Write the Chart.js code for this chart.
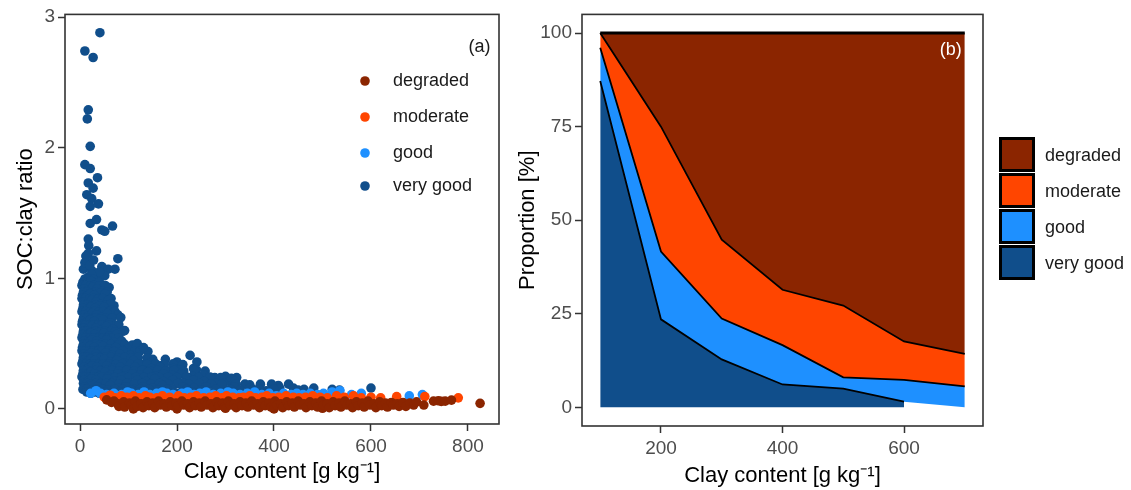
<!DOCTYPE html>
<html>
<head>
<meta charset="utf-8">
<script src="https://cdn.jsdelivr.net/npm/chart.js@4.4.1/dist/chart.umd.min.js"></script>
<style>
  html, body { margin: 0; padding: 0; background: #ffffff; }
  #wrap { position: relative; width: 1131px; height: 490px; }
  #scatterCanvas { position: absolute; left: 0; top: 0; }
  #areaCanvas { position: absolute; left: 510px; top: 0; }
</style>
</head>
<body>
<div id="wrap">
  <canvas id="scatterCanvas" width="510" height="490"></canvas>
  <canvas id="areaCanvas" width="621" height="490"></canvas>
</div>
<script>
// ---- categories and tick labels ----
const categories = ['degraded', 'moderate', 'good', 'very good'];
const scatterXTicks = [0, 200, 400, 600, 800];
const scatterYTicks = [0, 1, 2, 3];
const areaXTicks = [200, 400, 600];
const areaYTicks = [0, 25, 50, 75, 100];

// ---- panel (a): clay content [g/kg] vs SOC:clay ratio, one list per class ----
const degradedPts = [
  [55,0.07],[65,0.05],[70,0.06],[78,0.04],[80,0.02],[90,0.055],[92,0.015],[102,0.045],[106,0.03],[110,0.0],
  [114,0.06],[118,0.02],[126,0.04],[130,0.01],[138,0.055],[142,0.025],[150,0.045],[154,0.01],[162,0.06],[166,0.03],
  [174,0.04],[178,0.015],[186,0.055],[190,0.025],[198,0.045],[200,0.0],[202,0.02],[210,0.06],[214,0.03],[222,0.04],
  [226,0.01],[234,0.055],[238,0.025],[246,0.045],[250,0.015],[258,0.06],[262,0.03],[270,0.04],[274,0.01],[282,0.055],
  [286,0.025],[294,0.045],[298,0.015],[300,0.005],[306,0.06],[310,0.03],[318,0.04],[322,0.01],[330,0.055],[334,0.025],
  [342,0.045],[346,0.015],[354,0.06],[358,0.03],[366,0.04],[370,0.01],[378,0.055],[382,0.025],[390,0.045],[394,0.015],
  [400,0.0],[402,0.06],[406,0.03],[414,0.04],[418,0.01],[426,0.055],[430,0.025],[438,0.045],[442,0.015],[450,0.06],
  [454,0.03],[462,0.04],[466,0.01],[474,0.055],[478,0.025],[486,0.045],[490,0.015],[498,0.06],[500,0.005],[502,0.03],
  [510,0.04],[514,0.01],[522,0.055],[526,0.025],[534,0.045],[538,0.015],[546,0.06],[550,0.03],[558,0.04],[562,0.01],
  [570,0.055],[574,0.025],[582,0.045],[586,0.015],[594,0.06],[598,0.03],[606,0.04],[610,0.01],[618,0.055],[622,0.025],
  [630,0.045],[634,0.015],[642,0.05],[646,0.03],[654,0.04],[658,0.02],[666,0.05],[672,0.02],[680,0.045],[688,0.03],
  [694,0.055],[709,0.03],[729,0.06],[739,0.063],[745,0.058],[753,0.06],[766,0.068],[825,0.043]
];
const moderatePts = [
  [50,0.09],[62,0.105],[72,0.085],[85,0.10],[97,0.09],[110,0.10],[122,0.085],[135,0.10],[144,0.09],[158,0.085],
  [170,0.10],[185,0.09],[203,0.10],[215,0.085],[228,0.09],[240,0.10],[255,0.085],[268,0.09],[280,0.10],[292,0.085],
  [302,0.10],[315,0.09],[328,0.085],[337,0.09],[350,0.10],[362,0.085],[375,0.09],[385,0.10],[398,0.085],[410,0.09],
  [425,0.10],[440,0.09],[452,0.085],[465,0.09],[480,0.10],[495,0.09],[510,0.085],[529,0.10],[545,0.09],[564,0.10],
  [580,0.085],[600,0.09],[620,0.085],[653,0.095],[711,0.095],[780,0.085]
];
const goodPts = [
  [22,0.12],[33,0.14],[42,0.12],[55,0.11],[70,0.12],[86,0.11],[98,0.13],[106,0.12],[120,0.11],[132,0.13],
  [144,0.11],[158,0.12],[170,0.13],[179,0.12],[192,0.11],[210,0.12],[222,0.13],[235,0.11],[247,0.12],[260,0.13],
  [275,0.11],[290,0.12],[305,0.13],[316,0.12],[330,0.11],[345,0.12],[360,0.13],[375,0.11],[390,0.12],[405,0.10],
  [420,0.12],[435,0.11],[447,0.12],[460,0.11],[475,0.12],[490,0.11],[502,0.12],[520,0.13],[536,0.14],[560,0.11],
  [580,0.12],[679,0.10],[706,0.11]
];
const veryGoodPts = [
  // sparse upper points
  [41,2.88],[10,2.74],[27,2.69],[17,2.29],[15,2.22],[21,2.01],[10,1.87],[21,1.84],[36,1.77],[17,1.73],
  [27,1.69],[14,1.64],[24,1.61],[38,1.57],[21,1.55],[21,1.42],[34,1.45],[45,1.37],[67,1.40],[51,1.36],
  [17,1.30],[18,1.25],[34,1.21],[78,1.15],[17,1.19],[7,1.07],[24,1.06],[45,1.09],[58,1.07],[72,1.07],
  [17,1.01],[38,1.02],[51,1.02],[10,1.12],[20,1.10],[28,1.14],[12,1.17],[40,1.05],[24,1.03],
  // dense low-clay column
  [10,0.995],[19,0.995],[28,0.99],
  [6,0.97],[14,0.96],[22,0.98],[30,0.95],[40,0.97],
  [4,0.945],[12,0.945],[20,0.94],[29,0.945],[38,0.94],[52,0.945],
  [9,0.92],[17,0.91],[26,0.93],[35,0.92],[47,0.90],[60,0.93],
  [7,0.895],[15,0.895],[23,0.89],[32,0.895],[42,0.89],[56,0.895],
  [5,0.87],[13,0.86],[21,0.88],[29,0.87],[38,0.85],[52,0.88],
  [4,0.845],[11,0.845],[19,0.84],[27,0.845],[36,0.84],[47,0.845],[64,0.845],
  [8,0.82],[16,0.81],[24,0.83],[33,0.82],[43,0.80],[58,0.83],[70,0.79],
  [7,0.795],[15,0.795],[23,0.79],[32,0.795],[41,0.79],[54,0.795],[62,0.80],
  [6,0.77],[14,0.76],[22,0.78],[31,0.77],[40,0.75],[50,0.78],[66,0.76],
  [4,0.745],[12,0.745],[20,0.74],[29,0.745],[38,0.74],[48,0.745],[61,0.745],[72,0.745],
  [9,0.72],[17,0.71],[25,0.73],[34,0.72],[44,0.70],[56,0.73],[78,0.72],
  [7,0.695],[15,0.695],[23,0.69],[32,0.695],[42,0.69],[53,0.695],[66,0.695],[84,0.70],
  [5,0.67],[13,0.66],[21,0.68],[29,0.67],[38,0.65],[48,0.68],[62,0.66],[72,0.64],
  [4,0.645],[11,0.645],[19,0.64],[27,0.645],[36,0.64],[46,0.645],[58,0.645],[80,0.645],
  [8,0.62],[16,0.61],[24,0.63],[33,0.62],[42,0.60],[54,0.63],[68,0.61],[92,0.60],
  [7,0.595],[15,0.595],[23,0.59],[32,0.595],[41,0.59],[51,0.595],[64,0.595],[72,0.59],[88,0.595],
  [6,0.57],[14,0.56],[22,0.58],[30,0.57],[39,0.55],[49,0.58],[60,0.56],[76,0.57],
  [4,0.545],[12,0.545],[20,0.54],[29,0.545],[38,0.54],[48,0.545],[58,0.545],[66,0.54],[80,0.545],
  [9,0.52],[17,0.51],[25,0.53],[34,0.52],[44,0.50],[55,0.53],[70,0.51],[86,0.52],
  [7,0.495],[15,0.495],[23,0.49],[32,0.495],[42,0.49],[52,0.495],[64,0.495],[78,0.49],[92,0.495],[108,0.49],
  [5,0.47],[13,0.46],[21,0.48],[29,0.47],[38,0.45],[48,0.48],[60,0.46],[74,0.47],[98,0.46],[118,0.50],
  [4,0.445],[11,0.445],[19,0.44],[27,0.445],[36,0.44],[46,0.445],[58,0.445],[70,0.44],[88,0.445],[112,0.44],[124,0.445],[140,0.44],
  [8,0.42],[16,0.41],[24,0.43],[33,0.42],[42,0.40],[53,0.43],[66,0.41],[82,0.42],[104,0.41],[131,0.47],[150,0.38],
  [7,0.395],[15,0.395],[23,0.39],[32,0.395],[42,0.39],[52,0.395],[64,0.395],[78,0.39],[92,0.395],[106,0.39],[120,0.395],[138,0.39],
  [6,0.37],[14,0.36],[22,0.38],[30,0.37],[40,0.35],[50,0.38],[62,0.36],[76,0.37],[92,0.35],[110,0.37],
  [128,0.34],[148,0.36],[166,0.33],[176,0.38],[200,0.36],
  [4,0.345],[12,0.345],[20,0.34],[29,0.345],[38,0.34],[48,0.345],[60,0.345],[74,0.34],[88,0.345],[104,0.34],
  [120,0.345],[138,0.34],[156,0.345],[174,0.34],[192,0.345],[212,0.34],
  [9,0.32],[17,0.31],[25,0.33],[34,0.32],[44,0.30],[55,0.33],[68,0.31],[83,0.32],[98,0.30],[114,0.32],
  [130,0.30],[147,0.31],[165,0.32],[183,0.29],[192,0.31],[205,0.30],[227,0.41],[234,0.31],[241,0.36],[240,0.30],
  [7,0.295],[15,0.295],[23,0.29],[32,0.295],[42,0.29],[54,0.295],[66,0.295],[80,0.29],[96,0.295],[112,0.29],
  [128,0.295],[144,0.29],[160,0.295],[176,0.29],[194,0.295],[214,0.29],[236,0.295],[258,0.29],
  [6,0.27],[14,0.26],[22,0.28],[30,0.27],[40,0.25],[52,0.28],[64,0.26],[78,0.27],[92,0.25],[108,0.27],
  [124,0.26],[140,0.28],[156,0.25],[172,0.27],[190,0.26],[210,0.27],[232,0.25],[255,0.26],[278,0.24],[300,0.25],[323,0.24],
  [4,0.245],[11,0.245],[19,0.24],[27,0.245],[36,0.24],[46,0.245],[58,0.245],[72,0.24],[86,0.245],[100,0.24],
  [116,0.245],[132,0.24],[148,0.245],[164,0.24],[182,0.245],[200,0.24],[220,0.245],[244,0.24],[268,0.245],[290,0.24],[312,0.235],
  [8,0.22],[16,0.21],[24,0.23],[33,0.22],[44,0.20],[56,0.23],[70,0.21],[85,0.22],[100,0.20],[118,0.22],
  [136,0.21],[154,0.23],[172,0.21],[192,0.22],[212,0.20],[234,0.22],[256,0.21],[280,0.20],[309,0.21],[319,0.21],
  [340,0.19],[372,0.19],[409,0.18],[430,0.19],
  [7,0.195],[15,0.195],[23,0.19],[32,0.195],[42,0.19],[54,0.195],[66,0.195],[80,0.19],[96,0.195],[112,0.19],
  [128,0.195],[146,0.19],[164,0.195],[182,0.19],[202,0.195],[224,0.19],[246,0.195],[270,0.19],[296,0.195],[322,0.19],[350,0.185],[395,0.19],
  [10,0.17],[18,0.16],[27,0.18],[36,0.17],[48,0.15],[62,0.18],[78,0.16],[95,0.17],[112,0.15],[130,0.17],
  [150,0.16],[170,0.18],[190,0.15],[212,0.17],[235,0.16],[260,0.17],[288,0.15],[292,0.19],[318,0.17],[350,0.16],
  [357,0.15],[384,0.14],[412,0.16],[440,0.16],[462,0.15],[482,0.16],[600,0.16],
  [6,0.15],[14,0.15],[24,0.145],[34,0.15],[46,0.15],[58,0.145],[72,0.15],[88,0.15],[106,0.145],[124,0.15],
  [142,0.15],[160,0.145],[180,0.15],[220,0.15],[250,0.145],[280,0.15],[310,0.15],[330,0.145],[370,0.15],[400,0.15],
  [450,0.145],[520,0.15],[535,0.145],
  [14,0.13],[22,0.12],[30,0.13],[40,0.12],[52,0.13],[66,0.12],[82,0.13],[100,0.12],[120,0.13],[145,0.12],
  [170,0.13],[200,0.12],[232,0.13],[265,0.12],[300,0.13],[345,0.12]
];

// ---- panel (b): proportion [%] of each class per clay content bin ----
const propClay      = [100, 200, 300, 400, 500, 600, 700];
const propVeryGood  = [87.2, 23.5, 12.8, 6.1, 5.0, 1.5, null];
const propGood      = [8.9, 18.1, 10.9, 10.5, 3.0, 5.8, 5.6];
const propModerate  = [3.9, 33.4, 21.1, 14.8, 19.2, 10.3, 8.7];
const propDegraded  = [0.0, 25.0, 55.2, 68.6, 72.8, 82.4, 85.7];

// ---- styling ----
const classColors = ['#8B2500', '#FF4500', '#1E90FF', '#104E8B'];
const FONT = "'Liberation Sans', Arial, Helvetica, sans-serif";
const TICK_GREY = '#4D4D4D';
const FRAME = '#333333';
Chart.defaults.font.family = FONT;
Chart.defaults.animation = false;

const toXY = pts => pts.map(p => ({ x: p[0], y: p[1] }));

// panel border plus corner tag placed in data units
const panelFrame = {
  id: 'panelFrame',
  afterDraw(chart, args, opts) {
    const { ctx, chartArea: a, scales } = chart;
    ctx.save();
    ctx.strokeStyle = FRAME;
    ctx.lineWidth = 1.6;
    ctx.strokeRect(a.left, a.top, a.right - a.left, a.bottom - a.top);
    if (opts.tag) {
      ctx.fillStyle = opts.tagColor;
      ctx.font = '18px ' + FONT;
      ctx.textAlign = 'center';
      ctx.textBaseline = 'middle';
      ctx.fillText(opts.tag, scales.x.getPixelForValue(opts.tagX), scales.y.getPixelForValue(opts.tagY));
    }
    ctx.restore();
  }
};

// point-style key inside panel (a)
const pointKey = {
  id: 'pointKey',
  afterDraw(chart, args, opts) {
    const { ctx } = chart;
    ctx.save();
    ctx.font = '18px ' + FONT;
    ctx.textAlign = 'left';
    ctx.textBaseline = 'middle';
    categories.forEach((name, i) => {
      const y = opts.rows[i];
      ctx.fillStyle = classColors[i];
      ctx.beginPath();
      ctx.arc(opts.markerX, y, 4.8, 0, Math.PI * 2);
      ctx.fill();
      ctx.fillStyle = '#1A1A1A';
      ctx.fillText(name, opts.textX, y);
    });
    ctx.restore();
  }
};

// filled-box key to the right of panel (b)
const boxKey = {
  id: 'boxKey',
  afterDraw(chart, args, opts) {
    const { ctx } = chart;
    ctx.save();
    ctx.font = '18px ' + FONT;
    ctx.textAlign = 'left';
    ctx.textBaseline = 'middle';
    categories.forEach((name, i) => {
      const top = opts.top + i * opts.step;
      ctx.fillStyle = classColors[i];
      ctx.fillRect(opts.x, top, opts.w, opts.h);
      ctx.strokeStyle = '#000000';
      ctx.lineWidth = 3;
      ctx.strokeRect(opts.x + 1.5, top + 1.5, opts.w - 3, opts.h - 3);
      ctx.fillStyle = '#1A1A1A';
      ctx.fillText(name, opts.textX, top + opts.h / 2 + 1.5);
    });
    ctx.restore();
  }
};

const tickFont = { size: 19 };
const titleFont = { size: 22 };
const tickGrid = { display: true, drawOnChartArea: false, drawTicks: true, tickLength: 7, tickColor: FRAME, tickWidth: 1.5 };
const fixedTicks = vals => scale => { scale.ticks = vals.map(v => ({ value: v })); };

// ---------- panel (a) ----------
new Chart(document.getElementById('scatterCanvas'), {
  type: 'scatter',
  data: {
    datasets: [degradedPts, moderatePts, goodPts, veryGoodPts].map((pts, i) => ({
      label: categories[i],
      data: toXY(pts),
      backgroundColor: classColors[i],
      borderColor: classColors[i],
      pointRadius: 4.8,
      pointBorderWidth: 0,
      pointHoverRadius: 4.8
    }))
  },
  options: {
    responsive: false,
    devicePixelRatio: 1,
    layout: { padding: { left: 0, right: 11, top: 8, bottom: 0 } },
    plugins: {
      legend: { display: false },
      tooltip: { enabled: false },
      panelFrame: { tag: '(a)', tagColor: '#1A1A1A', tagX: 824, tagY: 2.77 },
      pointKey: { markerX: 365, textX: 393, rows: [81, 117, 153, 186] }
    },
    scales: {
      x: {
        type: 'linear', min: -31, max: 864,
        afterBuildTicks: fixedTicks(scatterXTicks),
        afterFit: s => { s.height = 66; },
        grid: tickGrid, border: { display: false },
        ticks: { color: TICK_GREY, font: tickFont, padding: 4, maxRotation: 0, autoSkip: false },
        title: { display: true, text: 'Clay content [g kg⁻¹]', color: '#000', font: titleFont, padding: { top: 0, bottom: 5 } }
      },
      y: {
        type: 'linear', min: -0.115, max: 3.02,
        afterBuildTicks: fixedTicks(scatterYTicks),
        afterFit: s => { s.width = 65; },
        grid: tickGrid, border: { display: false },
        ticks: { color: TICK_GREY, font: tickFont, padding: 3 },
        title: { display: true, text: 'SOC:clay ratio', color: '#000', font: titleFont, padding: { top: 13, bottom: 0 } }
      }
    }
  },
  plugins: [panelFrame, pointKey]
});

// ---------- panel (b) ----------
const baseVeryGood = propVeryGood.map(v => v ?? 0);
const topGood = baseVeryGood.map((v, i) => v + propGood[i]);
const topModerate = topGood.map((v, i) => v + propModerate[i]);
const topDegraded = topModerate.map((v, i) => v + propDegraded[i]);
const line = vals => propClay.map((x, i) => ({ x, y: vals[i] })).filter(p => p.y !== null);

const areaLine = { pointRadius: 0, pointHoverRadius: 0, tension: 0, borderColor: '#000000', borderWidth: 1.8 };
new Chart(document.getElementById('areaCanvas'), {
  type: 'line',
  data: {
    datasets: [
      { ...areaLine, label: categories[0], data: line(topDegraded), fill: '+1', backgroundColor: classColors[0], borderWidth: 3 },
      { ...areaLine, label: categories[1], data: line(topModerate), fill: '+1', backgroundColor: classColors[1] },
      { ...areaLine, label: categories[2], data: line(topGood), fill: '+1', backgroundColor: classColors[2] },
      { ...areaLine, label: 'base', data: line(baseVeryGood), fill: false, borderWidth: 0, borderColor: 'rgba(0,0,0,0)' },
      { ...areaLine, label: categories[3], data: line(propVeryGood), fill: 'origin', backgroundColor: classColors[3] }
    ]
  },
  options: {
    responsive: false,
    devicePixelRatio: 1,
    layout: { padding: { left: 0, right: 148, top: 6, bottom: 0 } },
    plugins: {
      legend: { display: false },
      tooltip: { enabled: false },
      filler: { drawTime: 'beforeDatasetsDraw', propagate: false },
      panelFrame: { tag: '(b)', tagColor: '#FFFFFF', tagX: 677, tagY: 95.4 },
      boxKey: { x: 489, w: 36, h: 35, top: 137, step: 36, textX: 535 }
    },
    scales: {
      x: {
        type: 'linear', min: 70, max: 730,
        afterBuildTicks: fixedTicks(areaXTicks),
        afterFit: s => { s.height = 64; },
        grid: tickGrid, border: { display: false },
        ticks: { color: TICK_GREY, font: tickFont, padding: 4, maxRotation: 0, autoSkip: false },
        title: { display: true, text: 'Clay content [g kg⁻¹]', color: '#000', font: titleFont, padding: { top: 0, bottom: 1 } }
      },
      y: {
        type: 'linear', min: -5, max: 105,
        afterBuildTicks: fixedTicks(areaYTicks),
        afterFit: s => { s.width = 72; },
        grid: tickGrid, border: { display: false },
        ticks: { color: TICK_GREY, font: tickFont, padding: 3 },
        title: { display: true, text: 'Proportion [%]', color: '#000', font: titleFont, padding: { top: 5, bottom: 0 } }
      }
    }
  },
  plugins: [panelFrame, boxKey]
});
</script>
</body>
</html>
